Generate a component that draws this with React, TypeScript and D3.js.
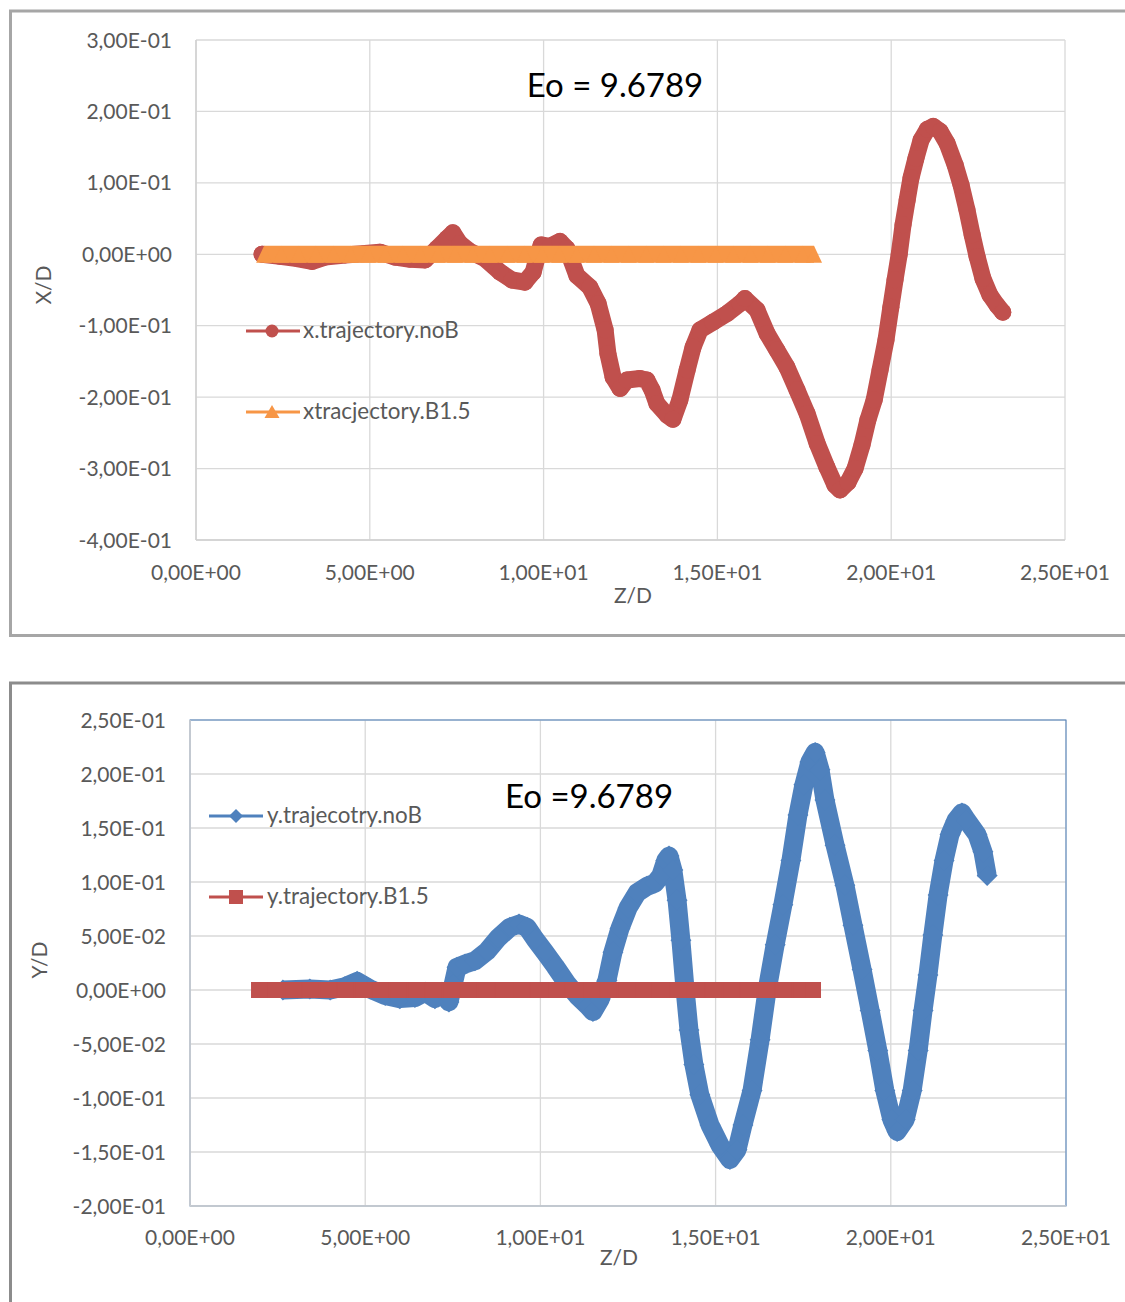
import React, { useEffect } from 'react';
import * as d3 from 'd3';

const FONT = 'Lato, "Open Sans", "Liberation Sans", sans-serif';

// ---------- shared x axis (Z/D) ----------
const zTicks = [0, 5, 10, 15, 20, 25];
const zTickLabels = ['0,00E+00', '5,00E+00', '1,00E+01', '1,50E+01', '2,00E+01', '2,50E+01'];

// ---------- top chart (X/D) ----------
const topYTicks = [0.3, 0.2, 0.1, 0, -0.1, -0.2, -0.3, -0.4];
const topYTickLabels = ['3,00E-01', '2,00E-01', '1,00E-01', '0,00E+00', '-1,00E-01', '-2,00E-01', '-3,00E-01', '-4,00E-01'];

const xNoBZ = [1.90, 2.42, 2.91, 3.34, 3.71, 4.29, 4.86, 5.29, 5.73, 6.16, 6.59, 6.93, 7.22, 7.39, 7.59, 7.88, 8.31, 8.75, 9.09, 9.46,
  9.70, 9.81, 9.93, 10.18, 10.47, 10.67, 10.96, 11.33, 11.57, 11.77, 11.85, 12.00, 12.20, 12.40, 12.77, 12.97, 13.12, 13.26, 13.55, 13.72,
  13.92, 14.13, 14.30, 14.50, 14.87, 15.28, 15.65, 15.79, 16.14, 16.43, 16.71, 17.00, 17.29, 17.58, 17.87, 18.15, 18.38, 18.53, 18.76, 18.96,
  19.16, 19.33, 19.51, 19.68, 19.85, 19.99, 20.11, 20.23, 20.34, 20.46, 20.57, 20.71, 20.86, 21.04, 21.21, 21.41, 21.61, 21.84, 22.01, 22.18,
  22.33, 22.47, 22.64, 22.84, 23.04, 23.21];
const xNoBVal = [0.000, -0.003, -0.006, -0.010, -0.004, -0.001, 0.001, 0.003, -0.004, -0.007, -0.008, 0.008, 0.022, 0.030, 0.015, 0.004, -0.006, -0.025, -0.036, -0.039,
  -0.025, -0.005, 0.013, 0.011, 0.018, 0.008, -0.030, -0.046, -0.069, -0.106, -0.139, -0.172, -0.188, -0.176, -0.174, -0.176, -0.190, -0.209, -0.225, -0.231,
  -0.204, -0.162, -0.130, -0.106, -0.095, -0.083, -0.069, -0.062, -0.078, -0.111, -0.134, -0.158, -0.190, -0.223, -0.265, -0.298, -0.323, -0.330, -0.319, -0.300,
  -0.267, -0.232, -0.204, -0.162, -0.120, -0.074, -0.036, 0.000, 0.041, 0.076, 0.107, 0.134, 0.160, 0.175, 0.179, 0.172, 0.155, 0.125, 0.097, 0.062,
  0.027, -0.003, -0.034, -0.057, -0.071, -0.081];

const xB15Z = [1.96, 2.45, 2.95, 3.45, 3.95, 4.45, 4.95, 5.45, 5.95, 6.45, 6.95, 7.45, 7.95, 8.45, 8.95, 9.45, 9.95, 10.45, 10.95, 11.45,
  11.95, 12.45, 12.95, 13.45, 13.95, 14.45, 14.95, 15.45, 15.95, 16.45, 16.95, 17.45, 17.78];
const xB15Val = [0, 0, 0, 0, 0, 0, 0, 0, 0, 0, 0, 0, 0, 0, 0, 0, 0, 0, 0, 0,
  0, 0, 0, 0, 0, 0, 0, 0, 0, 0, 0, 0, 0];

// ---------- bottom chart (Y/D) ----------
const botYTicks = [0.25, 0.2, 0.15, 0.1, 0.05, 0, -0.05, -0.1, -0.15, -0.2];
const botYTickLabels = ['2,50E-01', '2,00E-01', '1,50E-01', '1,00E-01', '5,00E-02', '0,00E+00', '-5,00E-02', '-1,00E-01', '-1,50E-01', '-2,00E-01'];

const yNoBZ = [2.65, 3.42, 4.00, 4.42, 4.77, 5.14, 5.57, 5.99, 6.42, 6.71, 6.99, 7.19, 7.39, 7.51, 7.62, 7.85, 8.13, 8.48, 8.79, 9.13, 9.39,
  9.62, 9.85, 10.13, 10.42, 10.76, 11.07, 11.36, 11.50, 11.70, 11.90, 12.07, 12.27, 12.50, 12.76, 13.04, 13.27, 13.44, 13.58, 13.67, 13.78,
  13.90, 14.01, 14.13, 14.24, 14.38, 14.55, 14.84, 15.13, 15.41, 15.61, 15.78, 16.04, 16.27, 16.47, 16.70, 16.92, 17.15, 17.35, 17.52, 17.69,
  17.84, 17.98, 18.12, 18.41, 18.69, 18.92, 19.18, 19.41, 19.63, 19.83, 20.03, 20.18, 20.41, 20.61, 20.78, 20.92, 21.06, 21.20, 21.35, 21.52,
  21.69, 21.86, 22.03, 22.17, 22.46, 22.63, 22.75];
const yNoBVal = [0.000, 0.001, 0.000, 0.003, 0.008, 0.001, -0.005, -0.008, -0.007, -0.002, -0.008, -0.002, -0.011, 0.005, 0.021, 0.024, 0.027, 0.036, 0.048, 0.058, 0.061,
  0.058, 0.047, 0.035, 0.022, 0.006, -0.006, -0.015, -0.020, -0.009, 0.009, 0.035, 0.057, 0.076, 0.090, 0.096, 0.099, 0.106, 0.120, 0.124, 0.111,
  0.083, 0.046, 0.000, -0.037, -0.069, -0.097, -0.125, -0.144, -0.157, -0.148, -0.125, -0.093, -0.046, 0.000, 0.042, 0.079, 0.120, 0.162, 0.190, 0.211,
  0.220, 0.204, 0.176, 0.134, 0.097, 0.060, 0.019, -0.019, -0.056, -0.093, -0.120, -0.131, -0.120, -0.093, -0.056, -0.019, 0.014, 0.051, 0.088, 0.120,
  0.144, 0.157, 0.164, 0.157, 0.144, 0.128, 0.106];

const yB15Z = [1.97, 2.45, 2.95, 3.45, 3.95, 4.45, 4.95, 5.45, 5.95, 6.45, 6.95, 7.45, 7.95, 8.45, 8.95, 9.45, 9.95, 10.45, 10.95, 11.45,
  11.95, 12.45, 12.95, 13.45, 13.95, 14.45, 14.95, 15.45, 15.95, 16.45, 16.95, 17.45, 17.78];
const yB15Val = [0, 0, 0, 0, 0, 0, 0, 0, 0, 0, 0, 0, 0, 0, 0, 0, 0, 0, 0, 0,
  0, 0, 0, 0, 0, 0, 0, 0, 0, 0, 0, 0, 0];

const RED = '#C0504D';
const ORANGE = '#F79646';
const BLUE = '#4F81BD';
const GRID = '#D9D9D9';
const TXT = '#595959';

type Pt = [number, number];
const zip = (a: number[], b: number[]): Pt[] => a.map((v, i) => [v, b[i]]);

export default function App() {
  useEffect(() => {
    document.body.style.margin = '0';
  }, []);

  // top scales
  const zT = d3.scaleLinear().domain([0, 25]).range([196, 1065]);
  const yT = d3.scaleLinear().domain([-0.4, 0.3]).range([540, 40]);
  // bottom scales
  const zB = d3.scaleLinear().domain([0, 25]).range([190, 1066]);
  const yB = d3.scaleLinear().domain([-0.2, 0.25]).range([1206, 720]);

  const lineT = d3.line<Pt>().x(d => zT(d[0])).y(d => yT(d[1]));
  const lineB = d3.line<Pt>().x(d => zB(d[0])).y(d => yB(d[1]));

  const redTop = zip(xNoBZ, xNoBVal);
  const orangeTop = zip(xB15Z, xB15Val);
  const blueBot = zip(yNoBZ, yNoBVal);
  const redBot = zip(yB15Z, yB15Val);

  const tri = (s: number, h1: number, h2: number) => `M0,${-h1} L${s},${h2} L${-s},${h2} Z`;
  const diamond = (s: number) => `M0,${-s} L${s},0 L0,${s} L${-s},0 Z`;

  return (
    <svg width={1125} height={1302} style={{ position: 'absolute', left: 0, top: 0, background: '#fff' }} fontFamily={FONT}>
      {/* panel borders */}
      <rect x={10.5} y={11} width={1130} height={624.5} fill="#fff" stroke="#A6A6A6" strokeWidth={3} />
      <rect x={10.5} y={683} width={1130} height={640} fill="#fff" stroke="#8C8C8C" strokeWidth={3} />

      {/* ===== TOP CHART ===== */}
      <g>
        {topYTicks.map((t, i) => (
          <line key={'tg' + i} x1={zT(0)} x2={zT(25)} y1={yT(t)} y2={yT(t)} stroke={GRID} strokeWidth={1.3} />
        ))}
        {zTicks.map((t, i) => (
          <line key={'tv' + i} x1={zT(t)} x2={zT(t)} y1={yT(0.3)} y2={yT(-0.4)} stroke={GRID} strokeWidth={1.3} />
        ))}
        <line x1={zT(0)} x2={zT(0)} y1={yT(0.3)} y2={yT(-0.4)} stroke="#D0D0D0" strokeWidth={1.5} />
        <line x1={zT(0)} x2={zT(25)} y1={yT(-0.4)} y2={yT(-0.4)} stroke="#D0D0D0" strokeWidth={1.5} />

        {topYTicks.map((t, i) => (
          <text key={'tyl' + i} x={172} y={yT(t) + 7.5} textAnchor="end" fontSize={21} fill={TXT}>{topYTickLabels[i]}</text>
        ))}
        {zTicks.map((t, i) => (
          <text key={'txl' + i} x={zT(t)} y={580} textAnchor="middle" fontSize={21} fill={TXT}>{zTickLabels[i]}</text>
        ))}
        <text x={633} y={603} textAnchor="middle" fontSize={21} fill={TXT}>Z/D</text>
        <text transform="translate(51,285) rotate(-90)" textAnchor="middle" fontSize={21} fill={TXT}>X/D</text>

        {/* red series */}
        <path d={lineT(redTop) || ''} fill="none" stroke={RED} strokeWidth={17} strokeLinejoin="round" strokeLinecap="round" />
        {redTop.map((d, i) => (
          <circle key={'rc' + i} cx={zT(d[0])} cy={yT(d[1])} r={8.5} fill={RED} />
        ))}
        {/* orange series */}
        <path d={lineT(orangeTop) || ''} fill="none" stroke={ORANGE} strokeWidth={17} />
        {orangeTop.map((d, i) => (
          <path key={'ot' + i} transform={`translate(${zT(d[0])},${yT(d[1])})`} d={tri(8, 8.5, 8.5)} fill={ORANGE} />
        ))}

        {/* legend */}
        <line x1={246} x2={300} y1={331} y2={331} stroke={RED} strokeWidth={3} />
        <circle cx={272} cy={331} r={6.5} fill={RED} />
        <text x={303} y={338} fontSize={22.4} fill={TXT}>x.trajectory.noB</text>
        <line x1={246} x2={300} y1={412} y2={412} stroke={ORANGE} strokeWidth={3} />
        <path transform="translate(272,412)" d={tri(7.5, 7, 6)} fill={ORANGE} />
        <text x={303} y={419} fontSize={22.4} fill={TXT}>xtracjectory.B1.5</text>

        <text x={615} y={97} textAnchor="middle" fontSize={33} fill="#000">Eo = 9.6789</text>
      </g>

      {/* ===== BOTTOM CHART ===== */}
      <g>
        {botYTicks.map((t, i) => (
          <line key={'bg' + i} x1={zB(0)} x2={zB(25)} y1={yB(t)} y2={yB(t)} stroke={GRID} strokeWidth={1.3} />
        ))}
        {zTicks.map((t, i) => (
          <line key={'bv' + i} x1={zB(t)} x2={zB(t)} y1={yB(0.25)} y2={yB(-0.2)} stroke={GRID} strokeWidth={1.3} />
        ))}
        <rect x={zB(0)} y={yB(0.25)} width={zB(25) - zB(0)} height={yB(-0.2) - yB(0.25)} fill="none" stroke={BLUE} strokeWidth={1} />
        <line x1={zB(0)} x2={zB(0)} y1={yB(0.25)} y2={yB(-0.2)} stroke="#D0D0D0" strokeWidth={1.5} />
        <line x1={zB(0)} x2={zB(25)} y1={yB(-0.2)} y2={yB(-0.2)} stroke="#D0D0D0" strokeWidth={1.5} />

        {botYTicks.map((t, i) => (
          <text key={'byl' + i} x={166} y={yB(t) + 7.5} textAnchor="end" fontSize={21} fill={TXT}>{botYTickLabels[i]}</text>
        ))}
        {zTicks.map((t, i) => (
          <text key={'bxl' + i} x={zB(t)} y={1245} textAnchor="middle" fontSize={21} fill={TXT}>{zTickLabels[i]}</text>
        ))}
        <text x={619} y={1265} textAnchor="middle" fontSize={21} fill={TXT}>Z/D</text>
        <text transform="translate(47,960) rotate(-90)" textAnchor="middle" fontSize={21} fill={TXT}>Y/D</text>

        {/* blue series */}
        <path d={lineB(blueBot) || ''} fill="none" stroke={BLUE} strokeWidth={19} strokeLinejoin="round" />
        {blueBot.map((d, i) => (
          <path key={'bd' + i} transform={`translate(${zB(d[0])},${yB(d[1])})`} d={diamond(10.5)} fill={BLUE} />
        ))}
        {/* red series */}
        <path d={lineB(redBot) || ''} fill="none" stroke={RED} strokeWidth={16} />
        {redBot.map((d, i) => (
          <rect key={'rs' + i} x={zB(d[0]) - 8} y={yB(d[1]) - 8} width={16} height={16} fill={RED} />
        ))}

        {/* legend */}
        <line x1={209} x2={263} y1={816} y2={816} stroke={BLUE} strokeWidth={3} />
        <path transform="translate(236,816)" d={diamond(7)} fill={BLUE} />
        <text x={267} y={823} fontSize={22.4} fill={TXT}>y.trajecotry.noB</text>
        <line x1={209} x2={263} y1={897} y2={897} stroke={RED} strokeWidth={3} />
        <rect x={229} y={890} width={14} height={14} fill={RED} />
        <text x={267} y={904} fontSize={22.4} fill={TXT}>y.trajectory.B1.5</text>

        <text x={589} y={808} textAnchor="middle" fontSize={33} fill="#000">Eo =9.6789</text>
      </g>
    </svg>
  );
}
